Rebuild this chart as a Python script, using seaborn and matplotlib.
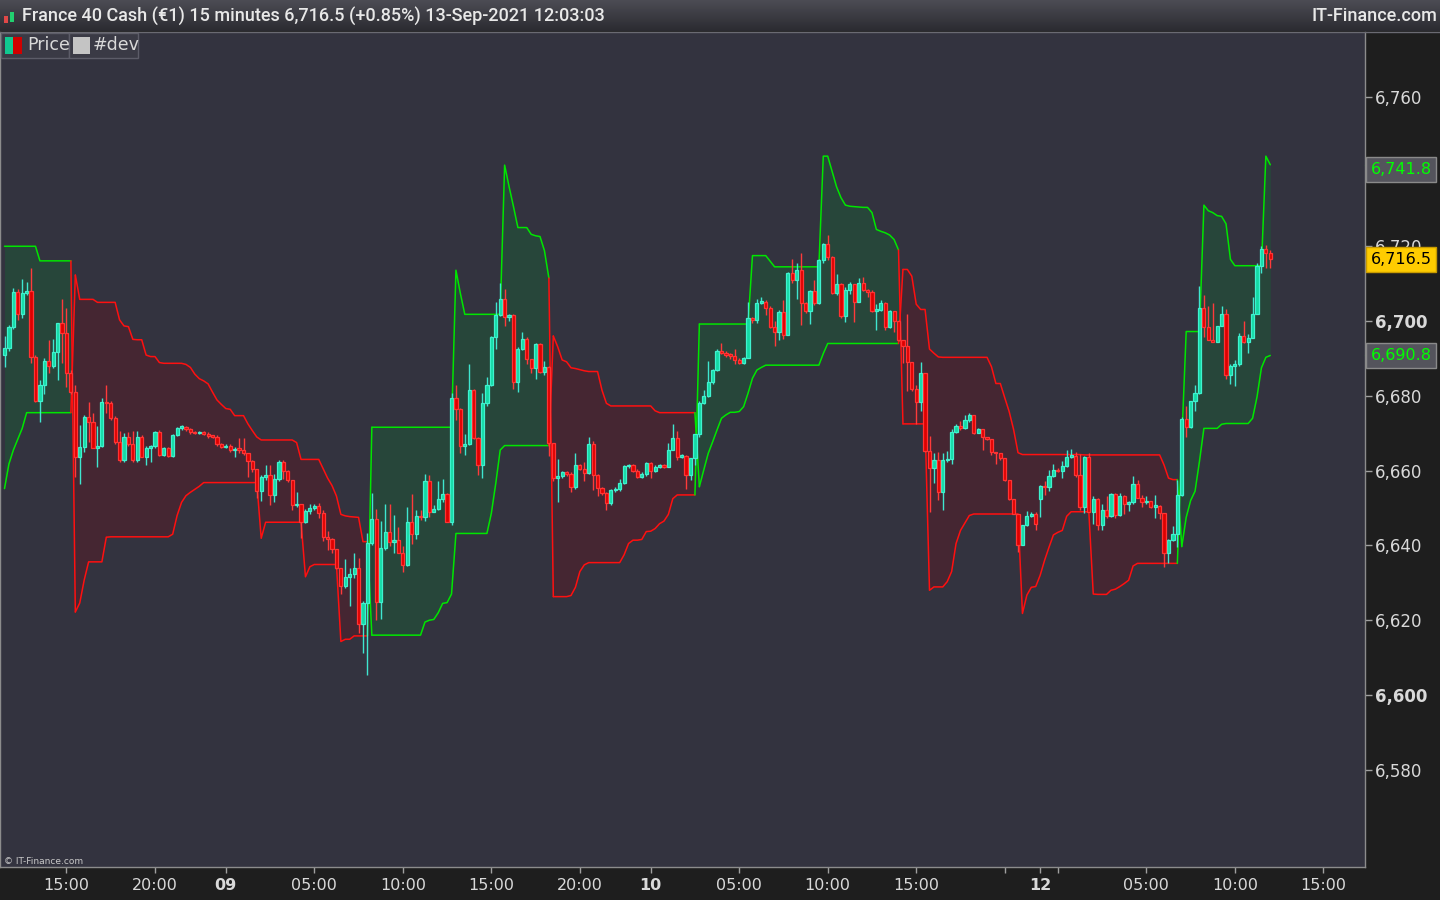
import numpy as np
import pandas as pd
import matplotlib
matplotlib.use("Agg")
import matplotlib.pyplot as plt
import matplotlib.transforms as mtransforms
from matplotlib.patches import Rectangle
import seaborn as sns

# ---------------- data (15 min bars, 08-Sep 11:30 -> 13-Sep 12:00) ----------------
first_open = 6690.9
gap_bar = 234          # Sunday re-open bar
gap_open = 6652.3

closes = [
    6692.8, 6698.4, 6707.8, 6702.0, 6707.5, 6708.0, 6690.5, 6678.7, 6682.9, 6689.4,
    6688.0, 6691.7, 6699.4, 6696.7, 6686.0, 6681.0, 6663.7, 6666.3, 6674.4, 6673.0,
    6666.0, 6666.5, 6678.3, 6678.0, 6674.0, 6667.6, 6662.8, 6669.0, 6667.0, 6662.8,
    6669.0, 6663.7, 6666.0, 6666.5, 6670.3, 6664.2, 6666.0, 6664.0, 6669.5, 6671.5,
    6671.7, 6671.0, 6670.2, 6670.0, 6670.3, 6669.8, 6669.2, 6669.0, 6667.0, 6666.3,
    6666.6, 6665.5, 6665.8, 6665.6, 6664.6, 6662.6, 6660.4, 6654.6, 6658.3, 6658.7,
    6653.5, 6657.8, 6662.3, 6660.0, 6657.6, 6650.8, 6651.0, 6646.3, 6649.3, 6650.0,
    6650.6, 6648.6, 6642.3, 6641.7, 6639.0, 6634.0, 6629.2, 6631.6, 6632.4, 6634.0,
    6619.0, 6624.7, 6640.6, 6647.0, 6625.0, 6639.3, 6643.6, 6641.0, 6641.5, 6638.0,
    6634.7, 6646.3, 6643.0, 6647.9, 6647.5, 6657.2, 6649.0, 6649.7, 6652.3, 6653.7,
    6646.3, 6679.4, 6676.4, 6666.6, 6667.0, 6681.5, 6668.7, 6661.5, 6678.0, 6682.9,
    6695.8, 6701.6, 6705.9, 6701.2, 6701.5, 6683.8, 6692.5, 6695.2, 6689.8, 6687.4,
    6693.8, 6686.4, 6687.7, 6667.5, 6658.0, 6658.6, 6659.5, 6659.0, 6655.7, 6661.5,
    6660.4, 6659.4, 6667.0, 6658.8, 6655.3, 6654.0, 6651.3, 6654.8, 6655.2, 6656.8,
    6661.2, 6661.4, 6660.0, 6658.4, 6659.2, 6662.0, 6660.0, 6661.0, 6661.5, 6661.0,
    6665.5, 6668.7, 6663.7, 6664.0, 6658.8, 6663.4, 6669.8, 6678.2, 6680.0, 6683.7,
    6686.9, 6692.0, 6691.5, 6691.0, 6690.7, 6689.6, 6688.8, 6690.0, 6700.7, 6700.3,
    6704.9, 6705.2, 6703.6, 6698.5, 6697.2, 6702.4, 6696.4, 6712.8, 6711.0, 6713.6,
    6704.7, 6702.8, 6708.0, 6704.8, 6716.3, 6720.6, 6717.0, 6707.5, 6710.0, 6701.4,
    6708.3, 6710.0, 6705.0, 6710.2, 6708.3, 6707.8, 6702.8, 6703.0, 6704.8, 6698.4,
    6702.7, 6700.0, 6695.0, 6693.4, 6689.0, 6681.7, 6678.4, 6686.0, 6665.2, 6660.6,
    6662.8, 6654.2, 6662.8, 6663.0, 6670.4, 6672.0, 6671.3, 6673.5, 6675.0, 6670.1,
    6671.0, 6669.0, 6668.5, 6665.0, 6664.6, 6663.3, 6657.5, 6652.5, 6648.5, 6640.1,
    6645.5, 6647.9, 6648.5, 6645.7, 6655.9, 6655.6, 6658.6, 6660.2, 6659.9, 6661.2,
    6663.7, 6664.0, 6658.8, 6650.2, 6663.6, 6649.0, 6652.4, 6645.5, 6649.5, 6647.8,
    6653.7, 6648.1, 6653.2, 6651.0, 6651.6, 6656.3, 6652.8, 6651.5, 6651.8, 6650.3,
    6650.5, 6648.7, 6637.9, 6641.4, 6643.0, 6653.5, 6673.8, 6671.7, 6678.6, 6680.7,
    6703.4, 6698.5, 6694.9, 6694.5, 6698.7, 6702.0, 6685.7, 6688.0, 6688.4, 6696.0,
    6694.5, 6695.5, 6702.0, 6714.8, 6719.2, 6718.3, 6716.5,
]

# wick lengths above / below the body, in points
wick_up = [
    3.1, 0.6, 1.0, 0.9, 3.7, 2.5, 6.1, 0.5, 1.3, 0.6,
    5.6, 3.5, 0.0, 6.4, 6.9, 1.0, 1.8, 5.8, 0.4, 4.0,
    2.4, 5.5, 1.1, 4.6, 0.5, 0.5, 2.9, 1.1, 1.3, 3.7,
    1.6, 0.6, 0.6, 0.4, 0.4, 0.6, 0.3, 0.3, 0.3, 0.3,
    0.4, 0.3, 0.5, 0.3, 0.4, 0.3, 0.4, 0.3, 0.5, 0.3,
    0.5, 0.4, 0.4, 3.0, 3.0, 0.2, 0.2, 0.0, 0.6, 2.9,
    2.9, 1.2, 0.6, 0.6, 0.2, 0.0, 3.4, 0.2, 0.4, 1.2,
    0.4, 0.7, 0.9, 1.6, 0.2, 0.0, 0.0, 4.8, 1.5, 3.9,
    2.7, 0.5, 2.7, 7.0, 2.7, 7.1, 7.6, 7.6, 6.6, 3.4,
    1.8, 4.0, 7.5, 1.5, 1.5, 2.0, 1.5, 1.1, 5.0, 4.0,
    0.2, 1.3, 3.6, 0.4, 2.7, 7.0, 0.3, 0.2, 2.7, 2.2,
    0.2, 3.6, 4.3, 2.7, 0.5, 0.4, 0.6, 1.8, 0.6, 0.0,
    0.2, 0.4, 1.5, 0.4, 0.0, 4.4, 0.5, 0.5, 0.7, 3.1,
    0.3, 1.8, 2.0, 0.8, 0.2, 0.4, 0.4, 0.4, 0.4, 0.9,
    0.3, 0.3, 0.4, 0.4, 0.4, 0.4, 0.4, 0.4, 0.4, 0.4,
    2.0, 3.8, 1.8, 0.4, 0.2, 0.0, 0.0, 0.3, 1.6, 5.5,
    0.4, 0.4, 2.0, 0.5, 0.5, 1.8, 0.4, 0.3, 4.5, 0.3,
    0.9, 1.1, 0.4, 0.4, 1.5, 0.6, 3.3, 0.4, 3.7, 1.8,
    4.5, 0.4, 0.3, 3.0, 0.2, 0.3, 2.5, 0.3, 2.7, 0.3,
    0.9, 0.4, 0.0, 1.3, 1.6, 0.4, 0.4, 1.6, 0.9, 0.3,
    0.2, 0.0, 0.2, 0.0, 8.5, 0.0, 1.2, 3.1, 0.0, 4.0,
    1.8, 2.2, 2.0, 2.2, 0.6, 0.4, 1.3, 1.3, 0.4, 0.0,
    0.3, 0.0, 0.0, 0.0, 0.0, 0.0, 0.0, 0.0, 0.0, 0.0,
    0.0, 1.2, 0.4, 0.4, 0.3, 1.3, 1.5, 1.5, 0.4, 1.3,
    1.8, 1.8, 0.9, 5.6, 0.2, 1.0, 0.7, 0.4, 1.6, 3.7,
    0.4, 0.2, 0.7, 0.2, 0.4, 2.2, 1.2, 0.6, 1.5, 0.2,
    3.0, 0.2, 0.0, 0.4, 2.2, 4.0, 0.6, 3.5, 0.0, 2.2,
    6.0, 3.6, 5.5, 9.8, 0.0, 2.0, 1.3, 0.6, 1.2, 0.7,
    4.0, 1.1, 4.5, 0.6, 0.9, 1.2, 0.7,
]
wick_dn = [
    3.1, 0.7, 0.4, 1.8, 1.1, 0.4, 1.8, 0.3, 5.6, 2.5,
    1.8, 0.6, 7.4, 8.0, 3.6, 0.5, 5.3, 7.4, 1.3, 5.3,
    0.0, 4.9, 0.3, 2.5, 0.5, 0.5, 0.4, 0.4, 0.3, 0.4,
    0.4, 0.0, 2.3, 3.6, 0.4, 0.4, 0.3, 0.3, 0.3, 0.3,
    0.6, 0.3, 0.4, 0.3, 0.3, 0.3, 0.4, 0.3, 0.4, 0.3,
    0.3, 0.4, 1.8, 1.0, 0.3, 4.3, 0.9, 2.0, 2.7, 0.9,
    2.7, 1.8, 0.7, 2.2, 0.6, 1.3, 0.4, 4.2, 0.4, 0.9,
    0.4, 1.2, 1.0, 2.9, 0.9, 0.3, 2.2, 0.7, 7.8, 1.0,
    2.5, 7.8, 19.4, 0.6, 4.9, 4.6, 0.6, 1.2, 3.1, 0.0,
    1.9, 0.3, 2.5, 1.2, 0.7, 0.9, 1.3, 0.0, 0.2, 0.6,
    0.0, 0.9, 2.9, 2.0, 2.5, 0.2, 0.3, 2.7, 3.4, 0.6,
    0.2, 3.4, 0.3, 2.5, 1.3, 2.0, 2.9, 0.3, 1.2, 1.3,
    3.0, 0.2, 0.7, 3.7, 0.9, 6.4, 0.5, 0.5, 1.3, 0.6,
    0.3, 2.2, 0.4, 4.0, 2.2, 0.4, 1.8, 0.4, 0.4, 0.7,
    0.4, 0.5, 0.4, 0.4, 0.4, 0.7, 2.0, 0.4, 0.4, 0.4,
    0.0, 0.0, 0.9, 0.4, 3.6, 1.3, 1.8, 0.9, 0.4, 0.3,
    0.4, 0.3, 0.4, 0.5, 0.8, 1.2, 0.4, 0.3, 0.0, 0.8,
    0.9, 0.3, 2.1, 0.4, 4.0, 2.2, 1.3, 0.2, 0.9, 5.0,
    5.8, 0.7, 3.7, 0.4, 0.3, 0.9, 0.7, 0.2, 0.6, 0.7,
    1.6, 1.1, 5.2, 0.0, 0.2, 1.3, 0.3, 5.3, 0.4, 0.7,
    0.3, 3.0, 0.4, 4.7, 7.6, 0.4, 5.8, 2.4, 0.2, 11.6,
    4.0, 2.0, 4.7, 0.4, 1.3, 0.4, 0.4, 0.2, 0.4, 0.2,
    0.0, 3.4, 0.4, 0.9, 2.7, 0.4, 0.4, 0.4, 0.2, 1.8,
    0.0, 0.4, 0.4, 1.6, 4.6, 2.0, 1.0, 0.3, 0.4, 2.0,
    0.2, 0.4, 0.4, 0.7, 1.6, 0.0, 3.3, 1.5, 1.5, 0.4,
    0.3, 0.9, 0.3, 2.5, 1.7, 0.4, 0.2, 1.3, 0.5, 0.3,
    3.0, 1.6, 3.7, 2.5, 0.3, 3.3, 0.3, 2.7, 0.2, 2.7,
    0.2, 2.7, 0.0, 0.0, 0.0, 0.0, 1.1, 2.5, 5.5, 0.4,
    0.4, 3.1, 0.0, 0.2, 1.9, 4.0, 2.2,
]

# "#dev" channel
band_upper = [
    6720.0, 6720.0, 6720.0, 6720.0, 6720.0, 6720.0, 6720.0, 6720.0, 6716.1, 6716.1,
    6716.1, 6716.1, 6716.1, 6716.1, 6716.1, 6716.1, 6712.3, 6705.8, 6705.8, 6705.8,
    6705.8, 6705.0, 6705.0, 6705.0, 6705.0, 6705.0, 6700.3, 6698.7, 6698.5, 6695.1,
    6695.0, 6695.0, 6690.9, 6690.5, 6690.5, 6688.9, 6688.7, 6688.7, 6688.7, 6688.7,
    6688.7, 6688.4, 6687.6, 6685.8, 6684.6, 6684.0, 6683.2, 6681.0, 6678.9, 6677.7,
    6676.6, 6676.4, 6674.7, 6674.7, 6674.7, 6672.5, 6670.7, 6669.0, 6668.2, 6668.2,
    6668.2, 6668.2, 6668.2, 6668.2, 6668.2, 6668.2, 6667.5, 6663.0, 6663.0, 6663.0,
    6663.0, 6663.0, 6660.5, 6658.0, 6656.0, 6653.2, 6648.3, 6647.9, 6647.7, 6647.6,
    6647.5, 6641.0, 6641.0, 6671.6, 6671.6, 6671.6, 6671.6, 6671.6, 6671.6, 6671.6,
    6671.6, 6671.6, 6671.6, 6671.6, 6671.6, 6671.6, 6671.6, 6671.6, 6671.6, 6671.6,
    6671.6, 6671.6, 6713.6, 6707.4, 6701.8, 6701.8, 6701.8, 6701.8, 6701.8, 6701.8,
    6701.8, 6701.8, 6701.8, 6741.7, 6736.0, 6730.6, 6725.0, 6725.0, 6725.0, 6723.2,
    6722.8, 6722.6, 6718.8, 6711.5, 6696.0, 6693.1, 6689.6, 6689.1, 6687.5, 6687.3,
    6687.0, 6686.7, 6686.5, 6686.5, 6686.5, 6681.5, 6678.0, 6677.3, 6677.3, 6677.3,
    6677.3, 6677.3, 6677.3, 6677.3, 6677.3, 6677.3, 6677.3, 6676.0, 6675.5, 6675.5,
    6675.5, 6675.5, 6675.5, 6675.5, 6675.5, 6675.5, 6675.5, 6699.2, 6699.2, 6699.2,
    6699.2, 6699.2, 6699.2, 6699.2, 6699.2, 6699.2, 6699.2, 6699.2, 6699.2, 6717.5,
    6717.5, 6717.5, 6717.5, 6716.0, 6714.5, 6714.5, 6714.5, 6714.5, 6714.5, 6714.5,
    6714.5, 6714.5, 6714.5, 6714.5, 6714.5, 6744.1, 6744.1, 6740.0, 6735.9, 6733.0,
    6731.0, 6730.7, 6730.6, 6730.5, 6730.4, 6730.4, 6729.0, 6724.5, 6724.0, 6723.6,
    6723.0, 6721.8, 6719.0, 6713.8, 6713.8, 6712.0, 6704.5, 6703.1, 6703.1, 6692.5,
    6691.4, 6690.4, 6690.3, 6690.3, 6690.3, 6690.3, 6690.3, 6690.3, 6690.3, 6690.3,
    6690.3, 6690.3, 6690.3, 6687.8, 6683.3, 6683.3, 6679.5, 6675.8, 6671.0, 6664.8,
    6664.3, 6664.3, 6664.3, 6664.3, 6664.3, 6664.3, 6664.3, 6664.3, 6664.3, 6664.3,
    6664.3, 6664.3, 6664.3, 6664.3, 6664.2, 6664.2, 6664.2, 6664.2, 6664.2, 6664.2,
    6664.2, 6664.2, 6664.2, 6664.2, 6664.2, 6664.2, 6664.2, 6664.2, 6664.2, 6664.2,
    6664.2, 6664.2, 6661.5, 6658.0, 6657.6, 6657.6, 6668.0, 6697.2, 6697.2, 6697.2,
    6697.2, 6731.0, 6729.5, 6729.0, 6728.2, 6728.0, 6726.0, 6716.5, 6714.8, 6714.8,
    6714.8, 6714.8, 6714.8, 6714.8, 6714.8, 6744.1, 6741.8,
]
band_lower = [
    6655.2, 6661.8, 6665.5, 6668.4, 6671.3, 6675.5, 6675.5, 6675.5, 6675.5, 6675.5,
    6675.5, 6675.5, 6675.5, 6675.5, 6675.5, 6675.5, 6622.2, 6624.6, 6630.7, 6635.6,
    6635.6, 6635.6, 6635.6, 6642.2, 6642.3, 6642.3, 6642.3, 6642.3, 6642.3, 6642.3,
    6642.3, 6642.3, 6642.3, 6642.3, 6642.3, 6642.3, 6642.3, 6642.3, 6643.0, 6648.0,
    6651.5, 6653.3, 6654.2, 6655.0, 6655.8, 6656.8, 6656.8, 6656.8, 6656.8, 6656.8,
    6656.8, 6656.8, 6656.8, 6656.8, 6656.8, 6656.8, 6656.8, 6656.8, 6641.9, 6646.2,
    6646.2, 6646.2, 6646.2, 6646.2, 6646.2, 6646.2, 6646.2, 6646.2, 6631.6, 6634.3,
    6634.9, 6634.9, 6634.9, 6634.9, 6634.9, 6634.9, 6614.3, 6614.9, 6614.9, 6615.8,
    6615.8, 6615.8, 6615.8, 6616.0, 6616.0, 6616.0, 6616.0, 6616.0, 6616.0, 6616.0,
    6616.0, 6616.0, 6616.0, 6616.0, 6616.0, 6619.5, 6620.0, 6620.2, 6622.0, 6624.5,
    6624.7, 6627.0, 6643.2, 6643.2, 6643.2, 6643.2, 6643.2, 6643.2, 6643.2, 6643.2,
    6648.6, 6656.6, 6665.5, 6666.7, 6666.7, 6666.7, 6666.7, 6666.7, 6666.7, 6666.7,
    6666.7, 6666.7, 6666.7, 6666.7, 6626.3, 6626.3, 6626.3, 6626.3, 6626.6, 6628.8,
    6633.0, 6634.8, 6635.4, 6635.4, 6635.4, 6635.4, 6635.4, 6635.4, 6635.4, 6635.4,
    6637.5, 6640.5, 6641.4, 6641.4, 6641.6, 6643.7, 6643.8, 6644.5, 6645.8, 6646.5,
    6648.3, 6652.5, 6653.5, 6653.5, 6653.5, 6653.5, 6653.5, 6655.7, 6660.2, 6664.6,
    6667.7, 6670.9, 6674.0, 6674.9, 6675.6, 6675.6, 6675.8, 6677.1, 6680.7, 6684.7,
    6686.9, 6687.6, 6688.2, 6688.2, 6688.2, 6688.2, 6688.2, 6688.2, 6688.2, 6688.2,
    6688.2, 6688.2, 6688.2, 6688.2, 6688.2, 6691.3, 6694.0, 6694.0, 6694.0, 6694.0,
    6694.0, 6694.0, 6694.0, 6694.0, 6694.0, 6694.0, 6694.0, 6694.0, 6694.0, 6694.0,
    6694.0, 6694.0, 6694.0, 6672.5, 6672.5, 6672.5, 6672.5, 6672.5, 6672.5, 6628.0,
    6628.9, 6628.9, 6628.9, 6630.3, 6633.0, 6640.5, 6644.0, 6646.0, 6648.0, 6648.4,
    6648.4, 6648.4, 6648.4, 6648.4, 6648.4, 6648.4, 6648.4, 6648.4, 6648.4, 6648.4,
    6621.8, 6626.7, 6628.8, 6629.0, 6632.0, 6636.0, 6639.5, 6642.8, 6643.5, 6644.0,
    6647.8, 6649.0, 6649.0, 6649.0, 6649.0, 6649.0, 6627.0, 6626.9, 6626.9, 6626.9,
    6628.0, 6628.3, 6629.0, 6629.8, 6630.7, 6634.5, 6635.2, 6635.2, 6635.2, 6635.2,
    6635.2, 6635.2, 6635.2, 6635.2, 6635.2, 6635.2, 6639.7, 6647.5, 6652.0, 6654.5,
    6662.5, 6671.3, 6671.3, 6671.3, 6671.3, 6672.4, 6672.6, 6672.6, 6672.6, 6672.6,
    6672.6, 6672.6, 6674.0, 6679.7, 6687.5, 6690.3, 6690.8,
]
# channel direction: (+1 bullish green / -1 bearish red, number of bars)
regime_runs = [(1, 16), (-1, 67), (1, 41), (-1, 33), (1, 46), (-1, 63), (1, 21)]

time_ticks = [14, 34, 50, 70, 90, 110, 130, 146, 166, 186, 206, 226, 234, 238, 258, 278, 298]
time_labels = ["15:00", "20:00", "09", "05:00", "10:00", "15:00", "20:00", "10",
               "05:00", "10:00", "15:00", "", "12", "", "05:00", "10:00", "15:00"]
day_labels = ["09", "10", "12"]
price_ticks = [6580, 6600, 6620, 6640, 6660, 6680, 6700, 6720, 6740, 6760]

last_price = 6716.5
band_tags = [6741.8, 6690.8]

# ---------------- style ----------------
BG = "#33333f"
PANEL = "#1e1e1e"
UP_FILL, UP_EDGE, UP_WICK = "#14d9a4", "#3ff2cf", "#3fe6cf"
DN_FILL, DN_EDGE, DN_WICK = "#dd0000", "#ff3434", "#ff3a3a"
G_LINE, G_FILL = "#00e600", "#27463a"
R_LINE, R_FILL = "#ff1010", "#452632"
TXT = "#d9d9d9"

sns.set_theme(style="dark", rc={"axes.facecolor": BG, "figure.facecolor": PANEL})
plt.rcParams["font.family"] = ["DejaVu Sans"]

W, H = 1440, 900
fig = plt.figure(figsize=(14.4, 9.0), dpi=100)
ax = fig.add_axes([0, 33 / H, 1365 / W, (867 - 32) / H])
ax.set_facecolor(BG)

n = len(closes)
bar = np.arange(n)
c = np.array(closes)
o = np.r_[first_open, c[:-1]]
o[gap_bar] = gap_open
hi = np.maximum(o, c) + np.array(wick_up)
lo = np.minimum(o, c) - np.array(wick_dn)
rising = c >= o

up_arr = np.array(band_upper)
lo_arr = np.array(band_lower)

# channel: fills + lines per run, crossing connectors where direction flips
start = 0
for r, k in regime_runs:
    seg = pd.DataFrame({"bar": bar[start:start + k],
                        "upper": up_arr[start:start + k],
                        "lower": lo_arr[start:start + k]})
    fcol, lcol = (G_FILL, G_LINE) if r > 0 else (R_FILL, R_LINE)
    ax.fill_between(seg["bar"], seg["lower"], seg["upper"], color=fcol, lw=0, zorder=1)
    sns.lineplot(data=seg, x="bar", y="upper", color=lcol, lw=1.1, ax=ax,
                 estimator=None, zorder=3)
    sns.lineplot(data=seg, x="bar", y="lower", color=lcol, lw=1.1, ax=ax,
                 estimator=None, zorder=3)
    if start > 0:
        xs = [start - 1, start]
        a = [lo_arr[start - 1], up_arr[start]]
        b = [up_arr[start - 1], lo_arr[start]]
        ax.fill_between(xs, a, b, color=fcol, lw=0, zorder=1)
        ax.plot(xs, a, color=lcol, lw=1.1, zorder=3)
        ax.plot(xs, b, color=lcol, lw=1.1, zorder=3)
    start += k

# candles
ax.vlines(bar[rising], lo[rising], hi[rising], color=UP_WICK, lw=1.0, zorder=4)
ax.vlines(bar[~rising], lo[~rising], hi[~rising], color=DN_WICK, lw=1.0, zorder=4)
body = np.maximum(np.abs(c - o), 0.4)
ax.bar(bar[rising], body[rising], bottom=np.minimum(o, c)[rising], width=0.72,
       color=UP_FILL, edgecolor=UP_EDGE, lw=0.9, zorder=5)
ax.bar(bar[~rising], body[~rising], bottom=np.minimum(o, c)[~rising], width=0.72,
       color=DN_FILL, edgecolor=DN_EDGE, lw=0.9, zorder=5)

ax.set_xlim(-1.02, 307.4)
ax.set_ylim(6554.0, 6777.3)
ax.set_xlabel("")
ax.set_ylabel("")
ax.grid(False)

# axes / ticks
ax.yaxis.tick_right()
ax.set_yticks(price_ticks, labels=[f"{v:,}" for v in price_ticks])
for t in ax.get_yticklabels():
    if t.get_text() in ("6,600", "6,700"):
        t.set_fontweight("bold")
ax.tick_params(axis="y", right=True, left=False, length=5, width=1, color="#a0a0a0",
               labelcolor=TXT, labelsize=12, pad=2, direction="out")
ax.set_xticks(time_ticks, labels=time_labels)
for t in ax.get_xticklabels():
    if t.get_text() in day_labels:
        t.set_fontweight("bold")
ax.tick_params(axis="x", bottom=True, length=4, width=1, color="#a0a0a0",
               labelcolor=TXT, labelsize=11.5, pad=4, direction="out")
ax.spines["top"].set_visible(False)
for side in ("right", "bottom", "left"):
    ax.spines[side].set_color("#8c8c8c")
    ax.spines[side].set_linewidth(1)

# right-side price tags (they sit over the axis labels, as in the platform)
ytrans = mtransforms.blended_transform_factory(ax.transAxes, ax.transData)
tag_y = {6741.8: 6740.6, 6690.8: 6690.8}
for v in band_tags:
    ax.text(1.004, tag_y[v], f"{v:,.1f}", transform=ytrans, ha="left", va="center",
            fontsize=11.5, color="#00ff00", zorder=10, clip_on=False,
            bbox=dict(boxstyle="square,pad=0.3", fc="#54545c", ec="#8a8a8a", lw=1))
    ax.plot([1.0, 1.004], [v, v], transform=ytrans, color="#00ff00", lw=1,
            clip_on=False)
ax.text(1.004, last_price, f"{last_price:,.1f}", transform=ytrans, ha="left",
        va="center", fontsize=11.5, color="black", zorder=10, clip_on=False,
        bbox=dict(boxstyle="square,pad=0.3", fc="#ffcc00", ec="#c89b00", lw=1))


def fx(x):
    return x / W


def fy(y):
    return 1 - y / H


# header bar
hax = fig.add_axes([0, fy(31), 1, 31 / H])
grad = np.linspace(0, 1, 64).reshape(-1, 1)
hax.imshow(grad, aspect="auto", cmap=sns.blend_palette(["#4c4c54", "#2b2b31"], as_cmap=True),
           extent=[0, 1, 0, 1])
hax.set_axis_off()
fig.add_artist(plt.Line2D([0, 1], [fy(31.5), fy(31.5)], color="#6a6a72", lw=1))
fig.add_artist(Rectangle((fx(4), fy(23)), fx(4), 7 / H, fc="#e04848", ec="none"))
fig.add_artist(Rectangle((fx(10), fy(22)), fx(4), 10 / H, fc="#22d070", ec="none"))
fig.text(fx(22), fy(16), "France 40 Cash (€1) 15 minutes 6,716.5 (+0.85%) 13-Sep-2021 12:03:03",
         ha="left", va="center", fontsize=13, color="#e8e8e8",
         family=["Roboto", "DejaVu Sans"], fontweight="medium")
fig.text(fx(1437), fy(16), "IT-Finance.com", ha="right", va="center", fontsize=13,
         color="#e8e8e8", family=["Roboto", "DejaVu Sans"], fontweight="medium")

# legend chips
for x0, x1 in ((1, 69), (69, 138)):
    fig.add_artist(Rectangle((fx(x0), fy(58)), fx(x1 - x0), 25 / H,
                             fc="#3a3a45", ec="#5c5c68", lw=1))
fig.add_artist(Rectangle((fx(5), fy(54)), fx(8), 17 / H, fc="#10c890", ec="none"))
fig.add_artist(Rectangle((fx(13), fy(54)), fx(9), 17 / H, fc="#d00000", ec="none"))
fig.text(fx(27), fy(45), "Price", ha="left", va="center", fontsize=12.5, color=TXT)
fig.add_artist(Rectangle((fx(73), fy(54)), fx(17), 17 / H, fc="#c4c4c4", ec="none"))
fig.text(fx(93), fy(45), "#dev", ha="left", va="center", fontsize=12.5, color=TXT)

fig.text(fx(4), fy(861), "© IT-Finance.com", ha="left", va="center", fontsize=6.5,
         color="#c8c8c8")

fig.savefig("out.png", dpi=100, facecolor=PANEL)
